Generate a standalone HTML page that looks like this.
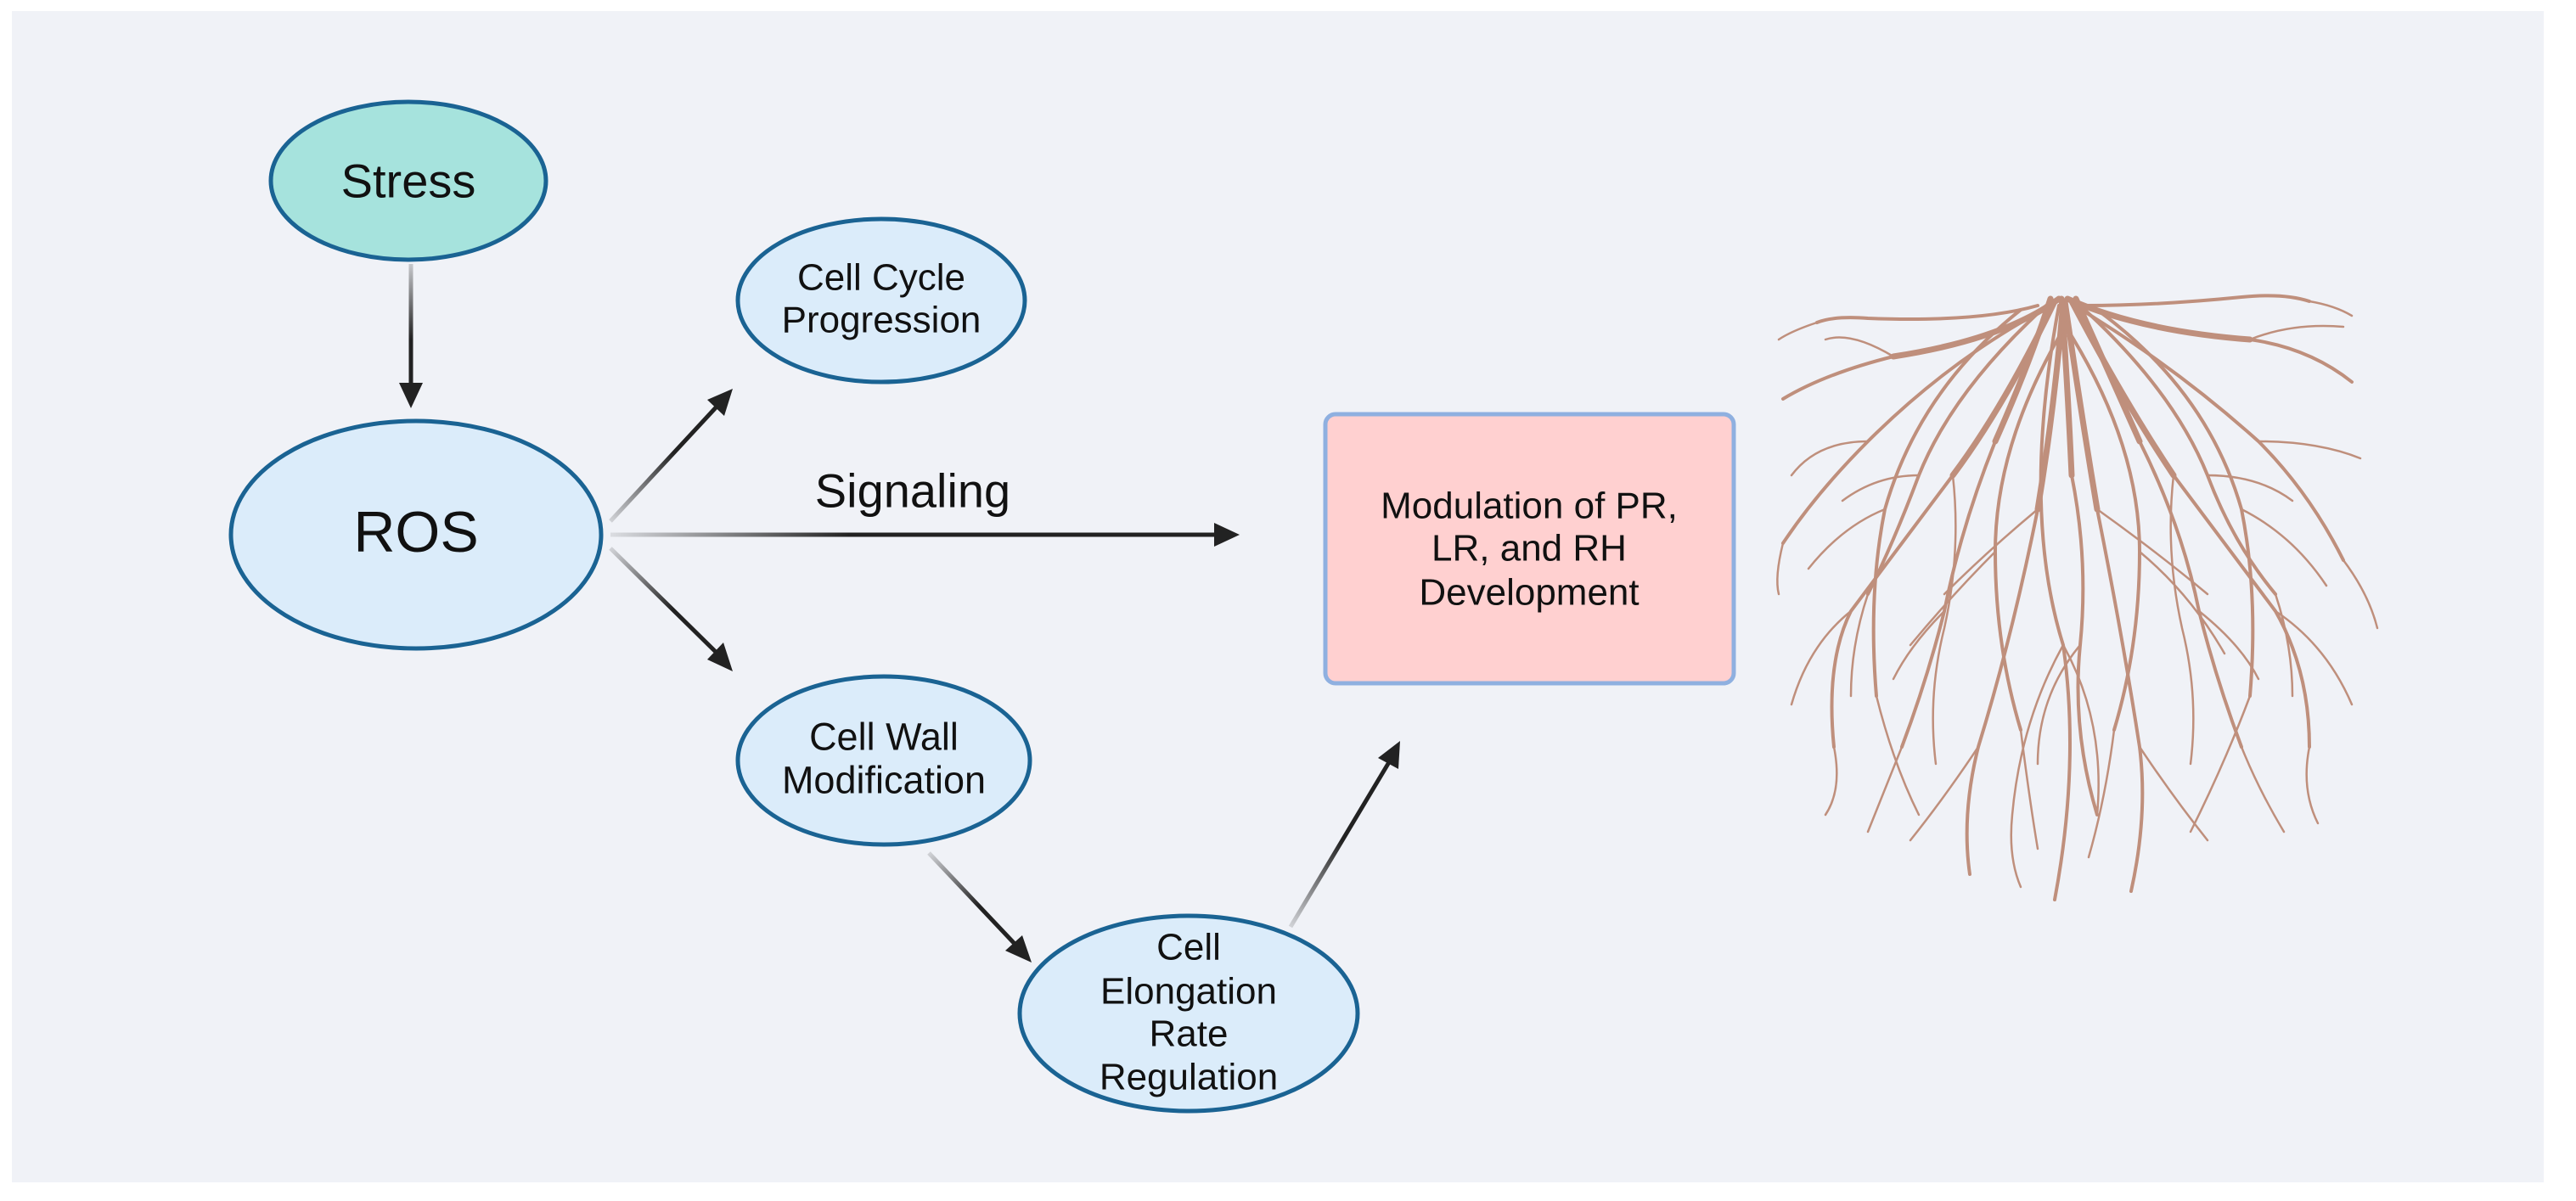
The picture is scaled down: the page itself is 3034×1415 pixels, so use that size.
<!DOCTYPE html>
<html><head><meta charset="utf-8"><style>
html,body{margin:0;padding:0;background:#fff;}
svg{display:block;}
text{font-family:"Liberation Sans",sans-serif;fill:#111;text-anchor:middle;dominant-baseline:central;}
</style></head><body>
<svg width="3034" height="1415" viewBox="0 0 3034 1415" xmlns="http://www.w3.org/2000/svg">
<defs>
<linearGradient id="g1" gradientUnits="userSpaceOnUse" x1="484" y1="311" x2="484" y2="400"><stop offset="0" stop-color="#222" stop-opacity="0.2"/><stop offset="1" stop-color="#222"/></linearGradient>
<linearGradient id="g2" gradientUnits="userSpaceOnUse" x1="719" y1="614" x2="790" y2="530"><stop offset="0" stop-color="#222" stop-opacity="0.15"/><stop offset="1" stop-color="#222"/></linearGradient>
<linearGradient id="g3" gradientUnits="userSpaceOnUse" x1="719" y1="630" x2="1000" y2="630"><stop offset="0" stop-color="#222" stop-opacity="0.1"/><stop offset="1" stop-color="#222"/></linearGradient>
<linearGradient id="g4" gradientUnits="userSpaceOnUse" x1="719" y1="646" x2="790" y2="720"><stop offset="0" stop-color="#222" stop-opacity="0.15"/><stop offset="1" stop-color="#222"/></linearGradient>
<linearGradient id="g5" gradientUnits="userSpaceOnUse" x1="1094" y1="1005" x2="1150" y2="1070"><stop offset="0" stop-color="#222" stop-opacity="0.15"/><stop offset="1" stop-color="#222"/></linearGradient>
<linearGradient id="g6" gradientUnits="userSpaceOnUse" x1="1520" y1="1092" x2="1580" y2="990"><stop offset="0" stop-color="#222" stop-opacity="0.15"/><stop offset="1" stop-color="#222"/></linearGradient>
</defs>
<rect x="14" y="13" width="2982" height="1380" fill="#f0f2f7"/>

<g stroke-width="5" fill="none">
<line x1="484" y1="311" x2="484" y2="455" stroke="url(#g1)"/>
<line x1="719" y1="614" x2="846" y2="477" stroke="url(#g2)"/>
<line x1="719" y1="630" x2="1432" y2="630" stroke="url(#g3)"/>
<line x1="719" y1="646" x2="846" y2="771" stroke="url(#g4)"/>
<line x1="1094" y1="1005" x2="1197" y2="1114" stroke="url(#g5)"/>
<line x1="1520" y1="1092" x2="1636" y2="898" stroke="url(#g6)"/>
</g>
<g fill="#222">
<polygon points="484,481 470,451 498,451"/>
<polygon points="863,458 853,490 833,471"/>
<polygon points="1460,630 1430,616 1430,644"/>
<polygon points="863,791 833,777 852,757"/>
<polygon points="1215,1134 1184,1120 1204,1102"/>
<polygon points="1649,873 1623,893 1647,906"/>
</g>
<text x="1075" y="578" style="font-size:56px">Signaling</text>

<g stroke="#1a6393" stroke-width="5">
<ellipse cx="481" cy="213" rx="162" ry="93" fill="#a6e3dd"/>
<ellipse cx="490" cy="630" rx="218" ry="134" fill="#dbecfa"/>
<ellipse cx="1038" cy="354" rx="169" ry="96" fill="#dbecfa"/>
<ellipse cx="1041" cy="896" rx="172" ry="99" fill="#dbecfa"/>
<ellipse cx="1400" cy="1194" rx="199" ry="115" fill="#dbecfa"/>
</g>
<rect x="1561" y="488" width="481" height="317" rx="12" fill="#ffd0d0" stroke="#8fb0e0" stroke-width="5"/>

<text x="481" y="213" style="font-size:56px">Stress</text>
<text x="490" y="627" style="font-size:68px">ROS</text>
<text x="1038" y="327" style="font-size:44px">Cell Cycle</text>
<text x="1038" y="377" style="font-size:44px">Progression</text>
<text x="1041" y="868" style="font-size:45px">Cell Wall</text>
<text x="1041" y="919" style="font-size:45px">Modification</text>
<text x="1400" y="1116" style="font-size:44px">Cell</text>
<text x="1400" y="1168" style="font-size:44px">Elongation</text>
<text x="1400" y="1218" style="font-size:44px">Rate</text>
<text x="1400" y="1269" style="font-size:44px">Regulation</text>
<text x="1801" y="596" style="font-size:44px">Modulation of PR,</text>
<text x="1801" y="646" style="font-size:44px">LR, and RH</text>
<text x="1801" y="698" style="font-size:44px">Development</text>

<g stroke="#bf8f7c" fill="none" stroke-linecap="round">
<g stroke-width="7">
<path d="M2425 352 Q2360 400 2230 420"/>
<path d="M2435 352 Q2520 390 2650 400"/>
<path d="M2420 355 Q2360 480 2300 560"/>
<path d="M2440 355 Q2500 470 2560 560"/>
<path d="M2430 355 Q2420 480 2400 600"/>
<path d="M2432 355 Q2450 480 2470 600"/>
<path d="M2415 352 Q2390 430 2350 520"/>
<path d="M2445 352 Q2480 430 2520 520"/>
<path d="M2428 352 Q2435 450 2440 560"/>
</g>
<g stroke-width="4">
<path d="M2230 420 Q2150 440 2100 470"/>
<path d="M2650 400 Q2720 410 2770 450"/>
<path d="M2300 560 Q2240 640 2180 720 Q2150 780 2160 880"/>
<path d="M2560 560 Q2620 640 2680 720 Q2720 790 2720 880"/>
<path d="M2400 600 Q2370 750 2330 880 Q2310 960 2320 1030"/>
<path d="M2470 600 Q2500 750 2520 880 Q2530 960 2510 1050"/>
<path d="M2425 360 Q2380 600 2430 760 Q2450 900 2420 1060"/>
<path d="M2420 358 Q2300 420 2200 520 Q2140 580 2100 640"/>
<path d="M2440 358 Q2560 430 2660 520 Q2720 580 2760 660"/>
<path d="M2400 360 Q2330 380 2200 375 Q2160 372 2140 380"/>
<path d="M2455 360 Q2540 360 2640 350 Q2690 345 2720 355"/>
<path d="M2380 365 Q2260 460 2220 600 Q2200 700 2210 820"/>
<path d="M2470 365 Q2600 460 2640 600 Q2660 700 2650 820"/>
<path d="M2350 520 Q2310 620 2290 720 Q2270 800 2240 880"/>
<path d="M2520 520 Q2570 620 2590 720 Q2610 800 2640 880"/>
<path d="M2440 560 Q2460 660 2450 760 Q2440 860 2470 960"/>
<path d="M2435 380 Q2350 520 2350 650 Q2350 760 2380 860"/>
<path d="M2430 380 Q2520 520 2520 650 Q2520 760 2490 860"/>
<path d="M2410 360 Q2300 460 2260 560 Q2230 640 2200 700"/>
<path d="M2450 360 Q2560 460 2600 560 Q2630 640 2680 700"/>
</g>
<g stroke-width="2.5">
<path d="M2180 720 Q2130 760 2110 830"/>
<path d="M2680 720 Q2740 760 2770 830"/>
<path d="M2160 880 Q2170 930 2150 960"/>
<path d="M2720 880 Q2710 930 2730 970"/>
<path d="M2330 880 Q2290 940 2250 990"/>
<path d="M2520 880 Q2560 940 2600 990"/>
<path d="M2210 820 Q2230 900 2260 960"/>
<path d="M2650 820 Q2620 900 2580 980"/>
<path d="M2100 640 Q2090 680 2095 700"/>
<path d="M2760 660 Q2790 700 2800 740"/>
<path d="M2200 520 Q2140 520 2110 560"/>
<path d="M2660 520 Q2730 520 2780 540"/>
<path d="M2230 420 Q2180 390 2150 400"/>
<path d="M2650 400 Q2700 380 2760 385"/>
<path d="M2430 760 Q2380 850 2370 960 Q2365 1010 2380 1045"/>
<path d="M2430 760 Q2480 850 2470 960"/>
<path d="M2300 560 Q2310 650 2290 740 Q2270 820 2280 900"/>
<path d="M2560 560 Q2550 650 2570 740 Q2590 820 2580 900"/>
<path d="M2400 600 Q2340 650 2290 700"/>
<path d="M2470 600 Q2540 650 2600 700"/>
<path d="M2220 600 Q2170 620 2130 670"/>
<path d="M2640 600 Q2700 630 2740 690"/>
<path d="M2380 860 Q2390 940 2400 1000"/>
<path d="M2490 860 Q2480 940 2460 1010"/>
<path d="M2240 880 Q2220 930 2200 980"/>
<path d="M2640 880 Q2660 930 2690 980"/>
<path d="M2350 650 Q2300 700 2250 760"/>
<path d="M2520 650 Q2580 700 2620 770"/>
<path d="M2290 720 Q2250 760 2230 800"/>
<path d="M2590 720 Q2640 760 2660 800"/>
<path d="M2450 760 Q2400 820 2400 900"/>
<path d="M2200 700 Q2180 760 2180 820"/>
<path d="M2680 700 Q2700 760 2700 820"/>
<path d="M2140 380 Q2110 390 2095 400"/>
<path d="M2720 355 Q2750 360 2770 372"/>
<path d="M2260 560 Q2210 560 2170 590"/>
<path d="M2600 560 Q2660 560 2700 590"/>
</g>
</g>
</svg>
</body></html>
